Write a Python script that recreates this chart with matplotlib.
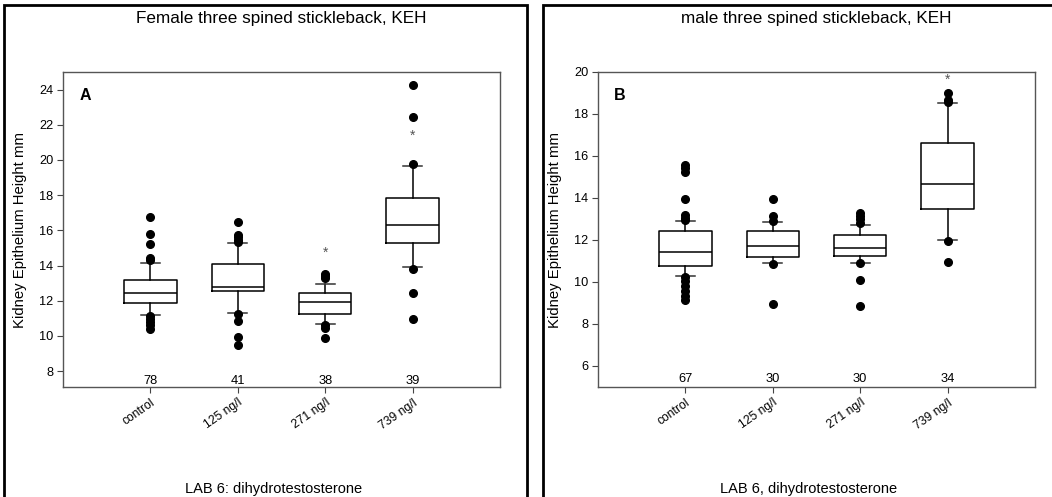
import matplotlib
matplotlib.use('Agg')
import matplotlib.pyplot as plt
from matplotlib.patches import Rectangle

plt.rcParams['font.family'] = ['Liberation Sans', 'DejaVu Sans']

groups = ["control", "125 ng/l", "271 ng/l", "739 ng/l"]

# female (panel A): whisker low, Q1, median, Q3, whisker high
fem_whislo = [11.19, 11.30, 10.70, 13.90]
fem_q1 = [11.87, 12.53, 11.26, 15.27]
fem_med = [12.47, 12.79, 11.92, 16.31]
fem_q3 = [13.19, 14.07, 12.47, 17.84]
fem_whishi = [14.15, 15.28, 12.98, 19.65]
fem_fliers = [
    [16.75, 15.80, 15.25, 14.42, 14.32, 11.12, 10.95, 10.80, 10.62, 10.42],
    [16.50, 15.75, 15.60, 15.45, 15.35, 11.22, 10.85, 9.92, 9.50],
    [13.50, 13.42, 13.30, 10.62, 10.48, 9.90],
    [24.25, 22.45, 19.78, 13.78, 12.45, 10.95],
]
fem_n = [78, 41, 38, 39]
fem_star = [None, None, 14.75, 21.35]

# male (panel B)
mal_whislo = [10.28, 10.91, 10.91, 12.02]
mal_q1 = [10.78, 11.20, 11.23, 13.48]
mal_med = [11.43, 11.73, 11.60, 14.68]
mal_q3 = [12.45, 12.41, 12.24, 16.64]
mal_whishi = [12.89, 12.84, 12.73, 18.54]
mal_fliers = [
    [15.58, 15.42, 15.26, 13.95, 13.20, 13.05, 12.95, 10.25, 10.05, 9.80, 9.55, 9.35, 9.15],
    [13.95, 13.15, 12.90, 10.88, 8.95],
    [13.28, 13.12, 12.98, 12.82, 10.90, 10.08, 8.85],
    [19.02, 18.65, 18.55, 11.95, 10.95],
]
mal_n = [67, 30, 30, 34]
mal_star = [None, None, None, 19.62]

W, H = 1052, 497
fig = plt.figure(figsize=(W / 100, H / 100), dpi=100)


def panel(left, whislo, q1, med, q3, whishi, fliers, n, stars, ylim, yticks,
          letter, title, xlabel, frame_x, ylab_x, n_y):
    # outer frame of the panel (bottom and right run off the picture)
    fig.patches.append(Rectangle((frame_x / W, -0.05), 523 / W, 1.05 - 5 / H,
                                 transform=fig.transFigure, fill=False,
                                 edgecolor='black', linewidth=2.0))
    ax = fig.add_axes([left / W, 1 - 387 / H, 437 / W, 315 / H])
    stats = []
    for i in range(len(groups)):
        stats.append({"whislo": whislo[i], "q1": q1[i], "med": med[i],
                      "q3": q3[i], "whishi": whishi[i], "fliers": fliers[i]})
    ax.bxp(stats, positions=[1, 2, 3, 4], widths=0.6, capwidths=0.22,
           boxprops=dict(color='black', linewidth=1.1),
           medianprops=dict(color='black', linewidth=1.1),
           whiskerprops=dict(color='black', linewidth=1.1),
           capprops=dict(color='#333333', linewidth=1.1),
           flierprops=dict(marker='o', markerfacecolor='black',
                           markeredgecolor='black', markersize=5.5))
    for i, s in enumerate(stars):
        if s is not None:
            ax.text(i + 1, s, "*", ha='center', va='center', fontsize=10,
                    color='#555555')
    for i, c in enumerate(n):
        ax.text(i + 1, n_y, str(c), ha='center', va='center', fontsize=9.3)
    ax.set_xlim(0, 5)
    ax.set_ylim(*ylim)
    ax.set_yticks(yticks)
    ax.set_xticks([1, 2, 3, 4])
    ax.set_xticklabels(groups, rotation=35, ha='right', rotation_mode='anchor',
                       fontsize=8.7)
    ax.tick_params(axis='y', labelsize=9.2, length=4, width=0.8,
                   color='#444444', pad=3)
    ax.tick_params(axis='x', length=4, width=0.8, color='#444444', pad=3)
    for sp in ax.spines.values():
        sp.set_color('#555555')
        sp.set_linewidth(1.0)
    ax.text(0.037, 0.95, letter, transform=ax.transAxes, fontsize=11.5,
            fontweight='bold', ha='left', va='top')
    fig.text((left + 218.5) / W, 1 - 18 / H, title, ha='center', va='center',
             fontsize=12.3)
    fig.text((left + 211) / W, 1 - 489 / H, xlabel, ha='center',
             va='center', fontsize=10.5)
    fig.text(ylab_x / W, 1 - 230 / H, "Kidney Epithelium Height mm",
             rotation=90, ha='center', va='center', fontsize=10.7)
    return ax


panel(63, fem_whislo, fem_q1, fem_med, fem_q3, fem_whishi, fem_fliers, fem_n,
      fem_star, (7.1, 25), [8, 10, 12, 14, 16, 18, 20, 22, 24], "A",
      "Female three spined stickleback, KEH", "LAB 6: dihydrotestosterone",
      4, 20, 7.45)
panel(598, mal_whislo, mal_q1, mal_med, mal_q3, mal_whishi, mal_fliers, mal_n,
      mal_star, (5, 20), [6, 8, 10, 12, 14, 16, 18, 20], "B",
      "male three spined stickleback, KEH", "LAB 6, dihydrotestosterone",
      543, 555, 5.4)

fig.savefig("out.png", dpi=100)
